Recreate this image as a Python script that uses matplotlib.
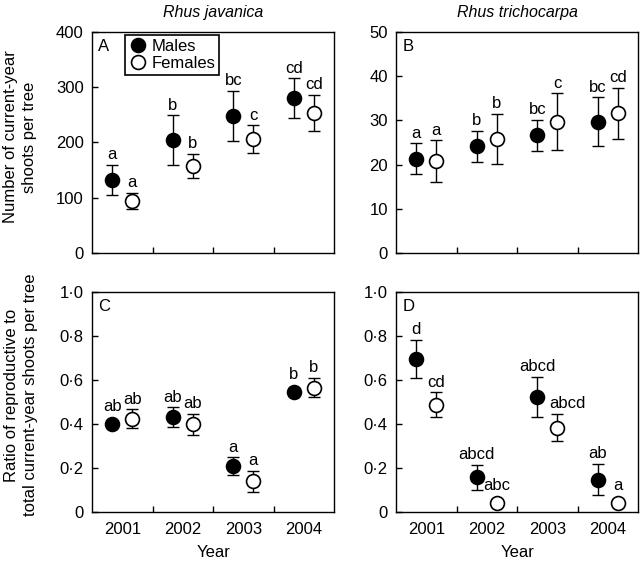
import matplotlib
matplotlib.use("Agg")
import matplotlib.pyplot as plt
from matplotlib.lines import Line2D
from matplotlib.ticker import FuncFormatter

plt.rcParams['font.family'] = ['Liberation Sans', 'DejaVu Sans']
plt.rcParams['font.size'] = 12

anos = ['2001', '2002', '2003', '2004']

# A - Rhus javanica, number of shoots
a_machos = [132, 204, 248, 280]
a_machos_err = [27, 45, 46, 36]
a_femeas = [94, 157, 206, 253]
a_femeas_err = [15, 22, 25, 33]
a_letras_m = ['a', 'b', 'bc', 'cd']
a_letras_f = ['a', 'b', 'c', 'cd']

# B - Rhus trichocarpa, number of shoots
b_machos = [21.3, 24.2, 26.6, 29.7]
b_machos_err = [3.5, 3.5, 3.6, 5.5]
b_femeas = [20.8, 25.8, 29.7, 31.6]
b_femeas_err = [4.7, 5.6, 6.4, 5.8]
b_letras_m = ['a', 'b', 'bc', 'bc']
b_letras_f = ['a', 'b', 'c', 'cd']

# C - Rhus javanica, ratio
c_machos = [0.401, 0.432, 0.208, 0.548]
c_machos_err = [0.015, 0.045, 0.041, 0.015]
c_femeas = [0.425, 0.400, 0.140, 0.566]
c_femeas_err = [0.042, 0.048, 0.048, 0.043]
c_letras_m = ['ab', 'ab', 'a', 'b']
c_letras_f = ['ab', 'ab', 'a', 'b']

# D - Rhus trichocarpa, ratio
d_machos = [0.697, 0.158, 0.524, 0.148]
d_machos_err = [0.085, 0.058, 0.093, 0.070]
d_femeas = [0.489, 0.043, 0.385, 0.043]
d_femeas_err = [0.056, 0.01, 0.062, 0.01]
d_letras_m = ['d', 'abcd', 'abcd', 'ab']
d_letras_f = ['cd', 'abc', 'abcd', 'a']

desloc = 0.165
raio_pt = 5.0


def painel(ax, machos, m_err, femeas, f_err, letras_m, letras_f, ymax, letra, rotulos_x,
           empurrar=None):
    # empurrar: {indice do ano: deslocamento em pontos} para rótulos das fêmeas
    empurrar = empurrar or {}
    xs = range(1, len(anos) + 1)
    ax.set_xlim(0.5, 4.5)
    ax.set_ylim(0, ymax)
    altura_pt = ax.get_position().height * ax.figure.get_figheight() * 72

    for serie, err, letras, dx, face in [(machos, m_err, letras_m, -desloc, 'black'),
                                           (femeas, f_err, letras_f, desloc, 'white')]:
        x = [i + dx for i in xs]
        ax.errorbar(x, serie, yerr=err, fmt='none', ecolor='black', elinewidth=1,
                    capsize=4, capthick=1, zorder=2)
        ax.plot(x, serie, 'o', ms=10, mfc=face, mec='black', mew=1.2, zorder=3)
        for k, (xi, v, e, l) in enumerate(zip(x, serie, err, letras)):
            e_pt = e / ymax * altura_pt
            off = max(e_pt, raio_pt) + 2
            ox = empurrar.get(k, 0) if face == 'white' else 0
            ax.annotate(l, (xi, v), xytext=(ox, off), textcoords='offset points',
                        ha='center', va='bottom', fontsize=12)

    ax.text(0.025, 0.97, letra, transform=ax.transAxes, ha='left', va='top', fontsize=12)

    ax.set_xticks(list(xs))
    if rotulos_x:
        ax.set_xticklabels(anos)
        ax.set_xlabel('Year', labelpad=6)
    else:
        ax.set_xticklabels([])
    ax.set_xticks([1.5, 2.5, 3.5], minor=True)
    ax.tick_params(axis='x', which='major', length=0, pad=7)
    ax.tick_params(axis='x', which='minor', direction='in', length=4, width=1)
    ax.tick_params(axis='y', direction='in', length=4, width=1, pad=6)
    for s in ax.spines.values():
        s.set_linewidth(1)


fig = plt.figure(figsize=(6.4, 5.61), dpi=100)
ax_a = fig.add_axes([0.144, 0.549, 0.378, 0.394])
ax_b = fig.add_axes([0.619, 0.549, 0.378, 0.394])
ax_c = fig.add_axes([0.144, 0.087, 0.378, 0.392])
ax_d = fig.add_axes([0.619, 0.087, 0.378, 0.392])

painel(ax_a, a_machos, a_machos_err, a_femeas, a_femeas_err, a_letras_m, a_letras_f, 400, 'A', False)
painel(ax_b, b_machos, b_machos_err, b_femeas, b_femeas_err, b_letras_m, b_letras_f, 50, 'B', False)
painel(ax_c, c_machos, c_machos_err, c_femeas, c_femeas_err, c_letras_m, c_letras_f, 1.0, 'C', True)
painel(ax_d, d_machos, d_machos_err, d_femeas, d_femeas_err, d_letras_m, d_letras_f, 1.0, 'D', True,
       empurrar={2: 7})

ax_a.set_yticks([0, 100, 200, 300, 400])
ax_b.set_yticks([0, 10, 20, 30, 40, 50])
fmt = FuncFormatter(lambda v, p: '0' if v == 0 else f'{v:.1f}'.replace('.', '\u00b7'))
for ax in (ax_c, ax_d):
    ax.set_yticks([0, 0.2, 0.4, 0.6, 0.8, 1.0])
    ax.yaxis.set_major_formatter(fmt)

ax_a.set_title('Rhus javanica', style='italic', fontsize=11.5, pad=11)
ax_b.set_title('Rhus trichocarpa', style='italic', fontsize=11.5, pad=11)

fig.text(0.031, 0.756, 'Number of current-year\nshoots per tree', rotation=90,
         ha='center', va='center', linespacing=1.35, fontsize=12)
fig.text(0.033, 0.296, 'Ratio of reproductive to\ntotal current-year shoots per tree',
         rotation=90, ha='center', va='center', linespacing=1.35, fontsize=12)

legenda = [Line2D([], [], marker='o', ls='none', ms=10, mfc='black', mec='black', mew=1.2, label='Males'),
           Line2D([], [], marker='o', ls='none', ms=10, mfc='white', mec='black', mew=1.2, label='Females')]
leg = ax_a.legend(handles=legenda, loc='upper left', bbox_to_anchor=(0.136, 0.985), fancybox=False,
                  framealpha=1, edgecolor='black', fontsize=12, handletextpad=0.25,
                  borderpad=0.22, labelspacing=0.12, handlelength=1.1, borderaxespad=0)
leg.get_frame().set_linewidth(1.2)

fig.savefig('out.png', dpi=100)
